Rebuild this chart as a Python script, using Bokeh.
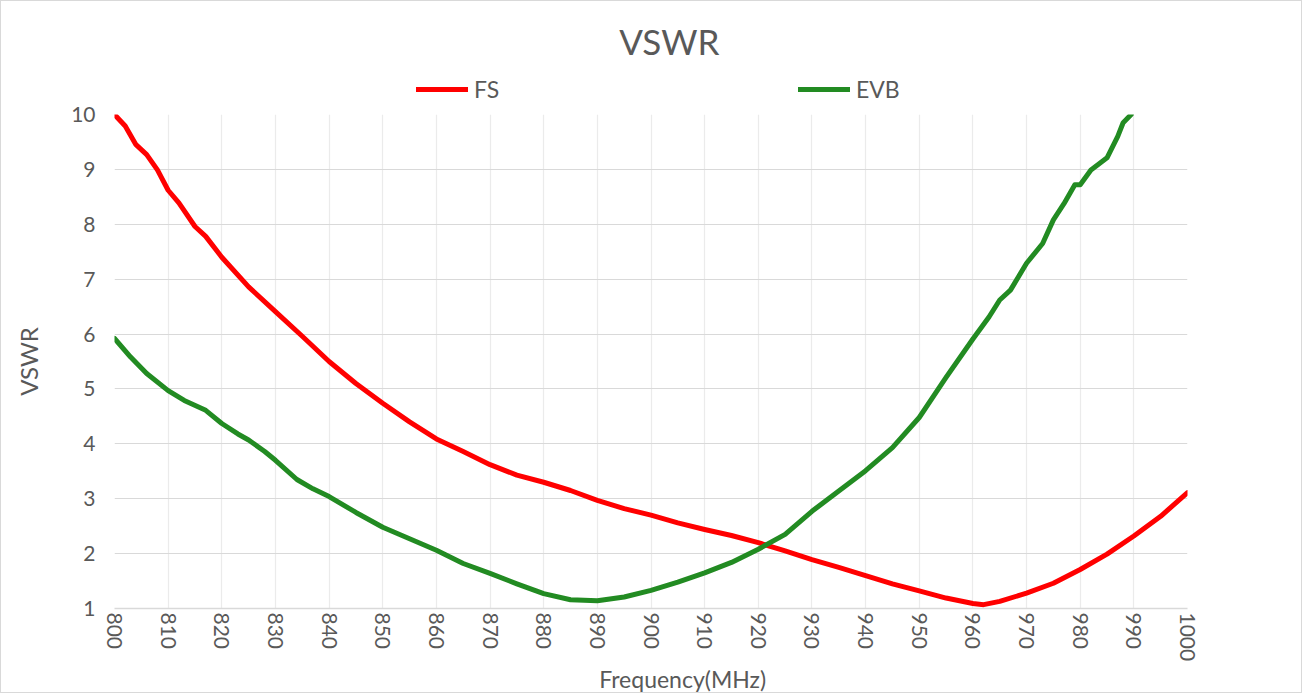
from bokeh.plotting import figure
from bokeh.layouts import column
from bokeh.models import FixedTicker, Legend, LegendItem, Label, ColumnDataSource, Range1d
from bokeh.embed import file_html
from bokeh.resources import INLINE

# ---- data ----
fs_freq = [800, 802, 804, 806, 808, 810, 812, 815, 817, 820, 825, 830, 835, 840, 845, 850,
           855, 860, 865, 870, 875, 880, 885, 890, 895, 900, 905, 910, 915, 920, 925, 930,
           935, 940, 945, 950, 955, 960, 962, 965, 970, 975, 980, 985, 990, 995, 1000]
fs_vswr = [10.0, 9.79, 9.45, 9.27, 8.99, 8.62, 8.39, 7.96, 7.78, 7.40, 6.86, 6.41, 5.96, 5.50,
           5.10, 4.74, 4.40, 4.09, 3.86, 3.62, 3.43, 3.30, 3.15, 2.97, 2.82, 2.70, 2.56, 2.44,
           2.33, 2.20, 2.05, 1.89, 1.75, 1.60, 1.45, 1.32, 1.19, 1.09, 1.07, 1.13, 1.28, 1.46,
           1.71, 1.99, 2.32, 2.68, 3.11]

evb_freq = [800, 803, 806, 810, 813, 817, 820, 823, 825, 828, 830, 834, 837, 840, 845, 850,
            855, 860, 865, 870, 875, 880, 885, 890, 895, 900, 905, 910, 915, 920, 925, 930,
            935, 940, 945, 950, 955, 960, 963, 965, 967, 970, 973, 975, 977, 979, 980, 982,
            985, 987, 988, 989.5]
evb_vswr = [5.92, 5.58, 5.28, 4.97, 4.79, 4.61, 4.37, 4.18, 4.07, 3.86, 3.70, 3.35, 3.18, 3.04,
            2.75, 2.48, 2.27, 2.06, 1.82, 1.64, 1.45, 1.27, 1.16, 1.14, 1.21, 1.33, 1.48, 1.65,
            1.84, 2.08, 2.35, 2.77, 3.14, 3.51, 3.93, 4.48, 5.21, 5.91, 6.31, 6.62, 6.80, 7.29,
            7.65, 8.08, 8.38, 8.72, 8.72, 8.99, 9.21, 9.60, 9.85, 10.0]

x_ticks = list(range(800, 1001, 10))
y_ticks = list(range(1, 11))

title_text = "VSWR"
x_title = "Frequency(MHz)"
y_title = "VSWR"
series_names = ["FS", "EVB"]
series_colors = ["#FF0000", "#228B22"]

FONT = "Lato"
GRAY = "#595959"
W = 1300
ML, MR = 113, 114

src_fs = ColumnDataSource(dict(x=fs_freq, y=fs_vswr))
src_evb = ColumnDataSource(dict(x=evb_freq, y=evb_vswr))


def blank(height):
    f = figure(width=W, height=height, x_range=Range1d(800, 1000), y_range=Range1d(height, 0),
               x_axis_location=None, y_axis_location=None,
               output_backend="svg", toolbar_location=None,
               min_border_left=ML, min_border_right=MR, min_border_top=0, min_border_bottom=0)
    f.grid.grid_line_color = None
    f.outline_line_color = None
    f.border_fill_color = "white"
    f.background_fill_color = "white"
    return f


# ---- header: title + legend ----
head = blank(101)
head.add_layout(Label(x=903.4, y=39, text=title_text, text_align="center", text_baseline="middle",
                      text_font=FONT, text_font_size="35px", text_color=GRAY))
# legend keys: same series, mapped on a range that keeps them out of the header's view
head.extra_y_ranges = {"keys": Range1d(100, 200)}
h_fs = head.line("x", "y", source=src_fs, y_range_name="keys", line_color=series_colors[0],
                 line_width=5, line_cap="round")
h_evb = head.line("x", "y", source=src_evb, y_range_name="keys", line_color=series_colors[1],
                  line_width=5, line_cap="round")
legend = Legend(items=[LegendItem(label=series_names[0], renderers=[h_fs]),
                       LegendItem(label=series_names[1], renderers=[h_evb])],
                location=(302, -1), orientation="horizontal",
                glyph_width=52, glyph_height=20, label_height=20, label_standoff=6,
                label_width=50, spacing=274, padding=0, margin=0,
                background_fill_alpha=0, border_line_color=None,
                label_text_font=FONT, label_text_font_size="23px", label_text_color=GRAY)
head.add_layout(legend)

# ---- main plot ----
p = figure(width=W, height=562, x_range=(800, 1000), y_range=(1, 10),
           output_backend="svg", toolbar_location=None,
           min_border_left=ML, min_border_right=MR, min_border_top=12, min_border_bottom=56)
p.outline_line_color = None
p.background_fill_color = "white"
p.border_fill_color = "white"

p.xaxis.ticker = FixedTicker(ticks=x_ticks)
p.yaxis.ticker = FixedTicker(ticks=y_ticks)
p.xaxis.major_label_orientation = "vertical"
for ax in (p.xaxis, p.yaxis):
    ax.major_tick_line_color = None
    ax.minor_tick_line_color = None
    ax.major_tick_out = 0
    ax.major_tick_in = 0
    ax.minor_tick_out = 0
    ax.minor_tick_in = 0
    ax.major_label_text_font = FONT
    ax.major_label_text_font_size = "21px"
    ax.major_label_text_color = GRAY
p.xaxis.axis_line_color = "#D9D9D9"
p.xaxis.axis_line_width = 1.5
p.yaxis.axis_line_color = None
p.xaxis.major_label_standoff = 4
p.yaxis.major_label_standoff = 19

p.yaxis.axis_label = y_title
p.yaxis.axis_label_text_font = FONT
p.yaxis.axis_label_text_font_size = "24px"
p.yaxis.axis_label_text_font_style = "normal"
p.yaxis.axis_label_text_color = GRAY
p.yaxis.axis_label_standoff = 25

p.xgrid.ticker = FixedTicker(ticks=x_ticks)
p.ygrid.ticker = FixedTicker(ticks=y_ticks)
p.xgrid.grid_line_color = "#EBEBEB"
p.ygrid.grid_line_color = "#D9D9D9"
p.xgrid.grid_line_width = 1.2
p.ygrid.grid_line_width = 1.2

p.line("x", "y", source=src_fs, line_color=series_colors[0], line_width=5,
       line_cap="round", line_join="round")
p.line("x", "y", source=src_evb, line_color=series_colors[1], line_width=5,
       line_cap="round", line_join="round")

# ---- footer: x axis title ----
foot = blank(28)
foot.add_layout(Label(x=905.9, y=14, text=x_title, text_align="center", text_baseline="middle",
                      text_font=FONT, text_font_size="23px", text_color=GRAY))

layout = column(head, p, foot, spacing=0)
layout.styles = {"border": "1px solid #D9D9D9"}

open("out.html", "w").write(file_html(layout, INLINE))
